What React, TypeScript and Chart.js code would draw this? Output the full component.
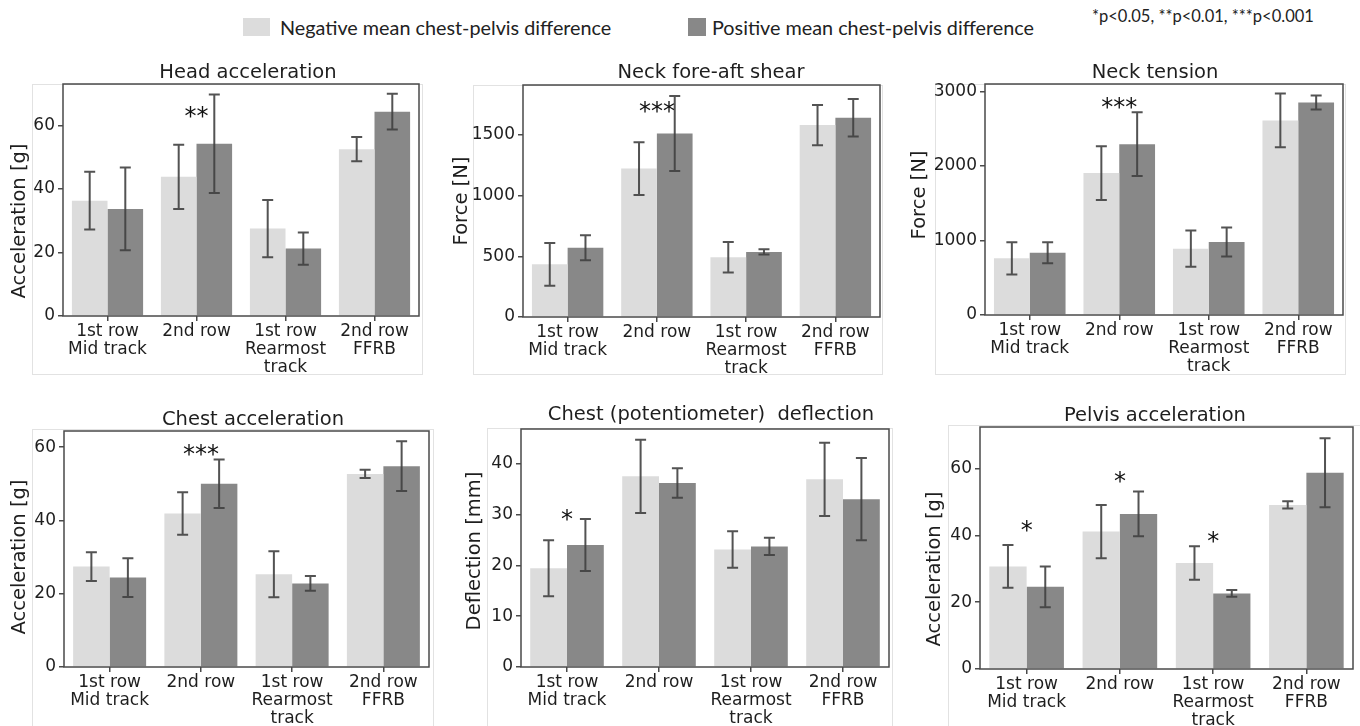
import React, { useEffect, useRef } from "react";
import { Chart, registerables } from "chart.js";

Chart.register(...registerables);

// ---------------- data ----------------
const categories = [
  ["1st row", "Mid track"],
  ["2nd row"],
  ["1st row", "Rearmost", "track"],
  ["2nd row", "FFRB"],
];
const seriesNames = [
  "Negative mean chest-pelvis difference",
  "Positive mean chest-pelvis difference",
];
const significanceNote = "*p<0.05, **p<0.01, ***p<0.001";

const headNeg = [36.3, 43.8, 27.5, 52.5];
const headNegSd = [9.1, 10.1, 9.0, 3.8];
const headPos = [33.7, 54.2, 21.2, 64.3];
const headPosSd = [13.0, 15.5, 5.1, 5.6];
const headStars = ["", "**", "", ""];
const headStarY = [0, 65, 0, 0];
const headTicks = [0, 20, 40, 60];

const shearNeg = [434, 1222, 492, 1580];
const shearNegSd = [176, 217, 126, 165];
const shearPos = [571, 1511, 536, 1640];
const shearPosSd = [103, 308, 22, 155];
const shearStars = ["", "***", "", ""];
const shearStarY = [0, 1745, 0, 0];
const shearTicks = [0, 500, 1000, 1500];

const tensionNeg = [760, 1904, 890, 2611];
const tensionNegSd = [215, 362, 244, 360];
const tensionPos = [836, 2293, 979, 2852];
const tensionPosSd = [140, 429, 195, 94];
const tensionStars = ["", "***", "", ""];
const tensionStarY = [0, 2879, 0, 0];
const tensionTicks = [0, 1000, 2000, 3000];

const chestNeg = [27.4, 41.9, 25.3, 52.7];
const chestNegSd = [3.9, 5.8, 6.3, 1.1];
const chestPos = [24.4, 50.0, 22.8, 54.8];
const chestPosSd = [5.3, 6.6, 2.0, 6.8];
const chestStars = ["", "***", "", ""];
const chestStarY = [0, 60, 0, 0];
const chestTicks = [0, 20, 40, 60];

const deflNeg = [19.4, 37.5, 23.1, 36.9];
const deflNegSd = [5.5, 7.2, 3.6, 7.2];
const deflPos = [24.0, 36.2, 23.7, 33.0];
const deflPosSd = [5.1, 2.9, 1.7, 8.1];
const deflStars = ["*", "", "", ""];
const deflStarY = [30.3, 0, 0, 0];
const deflTicks = [0, 10, 20, 30, 40];

const pelvisNeg = [30.7, 41.1, 31.7, 49.1];
const pelvisNegSd = [6.4, 8.0, 5.0, 1.1];
const pelvisPos = [24.6, 46.4, 22.6, 58.7];
const pelvisPosSd = [6.1, 6.7, 1.0, 10.3];
const pelvisStars = ["*", "*", "*", ""];
const pelvisStarY = [43.5, 58.2, 40.1, 0];
const pelvisTicks = [0, 20, 40, 60];

// ---------------- styles / layout ----------------
const LIGHT = "#dcdcdc";
const DARK = "#888888";
const ERR = "rgba(64,64,64,0.9)";
const SPINE = "#4a4a4a";
const TEXT = "#1e1e1e";
const FONT = "'DejaVu Sans', sans-serif";

type Box = { L: number; T: number; R: number; B: number };
type Panel = {
  title: string;
  yLabel: string;
  neg: number[];
  negSd: number[];
  pos: number[];
  posSd: number[];
  stars: string[];
  starY: number[];
  ticks: number[];
  yMax: number;
  plot: Box;
  frame: Box;
  titleX: number;
  titleY: number;
  yLabelX: number;
  yLabelY: number;
};

const panels: Panel[] = [
  {
    title: "Head acceleration", yLabel: "Acceleration [g]",
    neg: headNeg, negSd: headNegSd, pos: headPos, posSd: headPosSd,
    stars: headStars, starY: headStarY, ticks: headTicks, yMax: 73,
    plot: { L: 63, T: 84, R: 419, B: 316 }, frame: { L: 32, T: 84, R: 423, B: 375 },
    titleX: 248, titleY: 73, yLabelX: 20, yLabelY: 221,
  },
  {
    title: "Neck fore-aft shear", yLabel: "Force [N]",
    neg: shearNeg, negSd: shearNegSd, pos: shearPos, posSd: shearPosSd,
    stars: shearStars, starY: shearStarY, ticks: shearTicks, yMax: 1910,
    plot: { L: 523, T: 85, R: 880, B: 317 }, frame: { L: 473, T: 85, R: 883, B: 375 },
    titleX: 711, titleY: 73, yLabelX: 462, yLabelY: 201,
  },
  {
    title: "Neck tension", yLabel: "Force [N]",
    neg: tensionNeg, negSd: tensionNegSd, pos: tensionPos, posSd: tensionPosSd,
    stars: tensionStars, starY: tensionStarY, ticks: tensionTicks, yMax: 3100,
    plot: { L: 985, T: 84, R: 1343, B: 315 }, frame: { L: 935, T: 84, R: 1346, B: 375 },
    titleX: 1155, titleY: 73, yLabelX: 920, yLabelY: 195,
  },
  {
    title: "Chest acceleration", yLabel: "Acceleration [g]",
    neg: chestNeg, negSd: chestNegSd, pos: chestPos, posSd: chestPosSd,
    stars: chestStars, starY: chestStarY, ticks: chestTicks, yMax: 64.4,
    plot: { L: 64, T: 431, R: 429, B: 667 }, frame: { L: 32, T: 429, R: 434, B: 760 },
    titleX: 253, titleY: 420, yLabelX: 20, yLabelY: 557,
  },
  {
    title: "Chest (potentiometer)  deflection", yLabel: "Deflection [mm]",
    neg: deflNeg, negSd: deflNegSd, pos: deflPos, posSd: deflPosSd,
    stars: deflStars, starY: deflStarY, ticks: deflTicks, yMax: 46.8,
    plot: { L: 521, T: 429, R: 889, B: 667 }, frame: { L: 487, T: 428, R: 893, B: 760 },
    titleX: 711, titleY: 415, yLabelX: 475, yLabelY: 551,
  },
  {
    title: "Pelvis acceleration", yLabel: "Acceleration [g]",
    neg: pelvisNeg, negSd: pelvisNegSd, pos: pelvisPos, posSd: pelvisPosSd,
    stars: pelvisStars, starY: pelvisStarY, ticks: pelvisTicks, yMax: 72.4,
    plot: { L: 980, T: 427, R: 1353, B: 669 }, frame: { L: 948, T: 425, R: 1380, B: 760 },
    titleX: 1155, titleY: 416, yLabelX: 935, yLabelY: 569,
  },
];

const YW = 60; // y-axis box width
const XH = 60; // x-axis box height
const PADL = 32;
const PADT = 34;
const PADR = 8;
const PADB = 4;

function canvasRect(p: Panel) {
  const x0 = p.plot.L - YW - PADL;
  const y0 = p.plot.T - PADT;
  const w = p.plot.R - x0 + PADR;
  const h = p.plot.B - y0 + XH + PADB;
  return { x0, y0, w, h };
}

function makePlugin(p: Panel, x0: number, y0: number) {
  return {
    id: "panelDecor",
    afterDatasetsDraw(chart: any) {
      const { ctx, scales } = chart;
      const ys = scales.y;
      const xs = scales.x;
      ctx.save();
      // error bars
      ctx.strokeStyle = ERR;
      ctx.lineWidth = 2;
      const sds = [p.negSd, p.posSd];
      chart.data.datasets.forEach((ds: any, di: number) => {
        const meta = chart.getDatasetMeta(di);
        meta.data.forEach((bar: any, i: number) => {
          const m = ds.data[i];
          const s = sds[di][i];
          const x = bar.x;
          const yt = ys.getPixelForValue(m + s);
          const yb = ys.getPixelForValue(m - s);
          ctx.beginPath();
          ctx.moveTo(x, yt);
          ctx.lineTo(x, yb);
          ctx.moveTo(x - 5.5, yt);
          ctx.lineTo(x + 5.5, yt);
          ctx.moveTo(x - 5.5, yb);
          ctx.lineTo(x + 5.5, yb);
          ctx.stroke();
        });
      });
      // significance stars
      ctx.fillStyle = "#111";
      ctx.font = `24px ${FONT}`;
      ctx.textAlign = "center";
      ctx.textBaseline = "alphabetic";
      p.stars.forEach((st, i) => {
        if (!st) return;
        const x = xs.getPixelForValue(i);
        const y = ys.getPixelForValue(p.starY[i]);
        ctx.fillText(st, x, y + 24 * 0.6);
      });
      ctx.restore();
    },
    afterDraw(chart: any) {
      const { ctx, chartArea: a } = chart;
      ctx.save();
      ctx.strokeStyle = SPINE;
      ctx.lineWidth = 1.5;
      ctx.strokeRect(a.left, a.top, a.right - a.left, a.bottom - a.top);
      ctx.fillStyle = TEXT;
      ctx.font = `19.5px ${FONT}`;
      ctx.textAlign = "center";
      ctx.textBaseline = "middle";
      ctx.fillText(p.title, p.titleX - x0, p.titleY - y0);
      ctx.translate(p.yLabelX - x0, p.yLabelY - y0);
      ctx.rotate(-Math.PI / 2);
      ctx.fillText(p.yLabel, 0, 0);
      ctx.restore();
    },
  };
}

function BarPanel({ p }: { p: Panel }) {
  const ref = useRef<HTMLCanvasElement>(null);
  const r = canvasRect(p);
  useEffect(() => {
    if (!ref.current) return;
    const tickFont = { family: FONT, size: 17 };
    const chart = new Chart(ref.current, {
      type: "bar",
      data: {
        labels: categories,
        datasets: [
          { label: seriesNames[0], data: p.neg, backgroundColor: LIGHT, borderWidth: 0 },
          { label: seriesNames[1], data: p.pos, backgroundColor: DARK, borderWidth: 0 },
        ],
      },
      options: {
        responsive: false,
        animation: false,
        devicePixelRatio: 1,
        layout: { padding: { left: PADL, top: PADT, right: PADR, bottom: PADB } },
        datasets: { bar: { barPercentage: 1.0, categoryPercentage: 0.8 } },
        plugins: { legend: { display: false }, title: { display: false }, tooltip: { enabled: false } },
        scales: {
          x: {
            type: "category",
            offset: true,
            border: { display: false },
            grid: { display: true, drawOnChartArea: false, drawTicks: true, tickLength: 5, color: SPINE, lineWidth: 1.5, offset: false },
            ticks: { font: { ...tickFont, lineHeight: 1.06 }, color: TEXT, padding: 2, maxRotation: 0, autoSkip: false },
            afterFit: (s: any) => { s.height = XH; },
          },
          y: {
            min: 0,
            max: p.yMax,
            border: { display: false },
            grid: { display: true, drawOnChartArea: false, drawTicks: true, tickLength: 5, color: SPINE, lineWidth: 1.5 },
            ticks: { font: tickFont, color: TEXT, padding: 3, callback: (v: any) => String(v) },
            afterBuildTicks: (s: any) => { s.ticks = p.ticks.map((v) => ({ value: v })); },
            afterFit: (s: any) => { s.width = YW; },
          },
        },
      },
      plugins: [makePlugin(p, r.x0, r.y0)],
    });
    return () => chart.destroy();
  }, []);
  return (
    <canvas
      ref={ref}
      width={r.w}
      height={r.h}
      style={{ position: "absolute", left: r.x0, top: r.y0, width: r.w, height: r.h }}
    />
  );
}

const legendText: React.CSSProperties = {
  position: "absolute",
  fontFamily: "Lato, sans-serif",
  fontSize: 19.8,
  color: "#222",
  lineHeight: "26px",
  whiteSpace: "nowrap",
};

export default function App() {
  return (
    <div style={{ position: "absolute", left: 0, top: 0, width: 1360, height: 726, background: "#fff", overflow: "hidden" }}>
      {panels.map((p, i) => (
        <div
          key={"f" + i}
          style={{
            position: "absolute",
            left: p.frame.L,
            top: p.frame.T,
            width: p.frame.R - p.frame.L,
            height: p.frame.B - p.frame.T,
            border: "1px solid #e2e2e2",
            boxSizing: "border-box",
          }}
        />
      ))}
      {panels.map((p, i) => (
        <BarPanel key={i} p={p} />
      ))}
      <div style={{ position: "absolute", left: 243, top: 18, width: 27, height: 18, background: LIGHT }} />
      <div style={{ ...legendText, left: 280, top: 14 }}>{seriesNames[0]}</div>
      <div style={{ position: "absolute", left: 688, top: 18, width: 18, height: 18, background: DARK }} />
      <div style={{ ...legendText, left: 712, top: 14 }}>{seriesNames[1]}</div>
      <div style={{ ...legendText, left: 1092, top: 5, fontSize: 16.5, lineHeight: "22px" }}>{significanceNote}</div>
    </div>
  );
}
